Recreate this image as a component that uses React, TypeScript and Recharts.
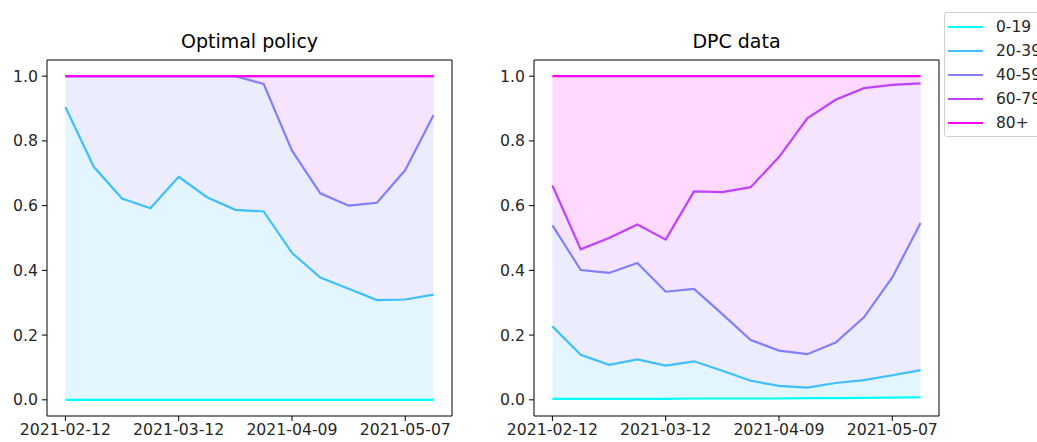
import {
    ComposedChart, Area, Line, XAxis, YAxis, ReferenceArea,
} from 'recharts';

const DATES = [
    '2021-02-12', '2021-02-19', '2021-02-26', '2021-03-05', '2021-03-12', '2021-03-19', '2021-03-26',
    '2021-04-02', '2021-04-09', '2021-04-16', '2021-04-23', '2021-04-30', '2021-05-07', '2021-05-14',
];
const TICK_IDX = [0, 4, 8, 12];
const Y_TICKS = [0, 0.2, 0.4, 0.6, 0.8, 1.0];

const GROUPS = ['0-19', '20-39', '40-59', '60-79', '80+'];
const COLORS = ['#00ffff', '#40bfff', '#8080ff', '#bf40ff', '#ff00ff'];

// cumulative shares, optimal policy
const opt0 = [0, 0, 0, 0, 0, 0, 0, 0, 0, 0, 0, 0, 0, 0];
const opt1 = [0.905, 0.72, 0.622, 0.592, 0.689, 0.626, 0.587, 0.582, 0.454, 0.378, 0.343, 0.308, 0.31, 0.325];
const opt2 = [1, 1, 1, 1, 1, 1, 1, 0.976, 0.77, 0.638, 0.6, 0.609, 0.71, 0.88];
const opt3 = [1, 1, 1, 1, 1, 1, 1, 1, 1, 1, 1, 1, 1, 1];
const opt4 = [1, 1, 1, 1, 1, 1, 1, 1, 1, 1, 1, 1, 1, 1];

// cumulative shares, DPC data
const dpc0 = [0.003, 0.003, 0.003, 0.003, 0.003, 0.004, 0.004, 0.004, 0.004, 0.005, 0.005, 0.006, 0.007, 0.008];
const dpc1 = [0.227, 0.139, 0.108, 0.125, 0.106, 0.119, 0.09, 0.059, 0.043, 0.038, 0.052, 0.061, 0.076, 0.092];
const dpc2 = [0.539, 0.401, 0.392, 0.423, 0.334, 0.343, 0.265, 0.185, 0.152, 0.141, 0.177, 0.255, 0.378, 0.546];
const dpc3 = [0.662, 0.465, 0.5, 0.542, 0.495, 0.644, 0.642, 0.657, 0.75, 0.87, 0.927, 0.963, 0.973, 0.978];
const dpc4 = [1, 1, 1, 1, 1, 1, 1, 1, 1, 1, 1, 1, 1, 1];

const FONT = '"DejaVu Sans", sans-serif';
const TXT = '#262626';

const build = (series: number[][]) =>
    DATES.map((d, i) => {
        const row: any = { i, date: d };
        series.forEach((s, k) => { row['s' + k] = s[i]; });
        return row;
    });

const Panel = ({ title, series, left }: { title: string; series: number[][]; left: number }) => {
    const data = build(series);
    return (
        <div style={{ position: 'absolute', left, top: 0, width: 470, height: 442 }}>
            <div style={{
                position: 'absolute', left: 47, width: 405, top: 30, textAlign: 'center',
                fontFamily: FONT, fontSize: 19, color: '#000',
            }}>{title}</div>
            <ComposedChart width={470} height={442} data={data}
                margin={{ top: 60, right: 18, bottom: 0, left: 10 }}>
                <XAxis dataKey="i" type="number" domain={[-0.65, 13.65]} ticks={TICK_IDX}
                    tickFormatter={(v: number) => DATES[v]} height={26} axisLine={false}
                    tickSize={5} tickLine={{ stroke: '#000' }} interval={0}
                    tick={{ fontFamily: FONT, fontSize: 15.7, fill: TXT, dy: 1 }} />
                <YAxis type="number" domain={[-0.05, 1.05]} ticks={Y_TICKS} width={37}
                    tickFormatter={(v: number) => v.toFixed(1)} axisLine={false}
                    tickSize={5} tickLine={{ stroke: '#000' }} interval={0}
                    tick={{ fontFamily: FONT, fontSize: 15.7, fill: TXT, dx: -2 }} />
                {[1, 2, 3, 4].map(k => (
                    <Area key={'a' + k} type="linear" isAnimationActive={false}
                        dataKey={(r: any) => [r['s' + (k - 1)], r['s' + k]]}
                        stroke="none" fill={COLORS[k]} fillOpacity={0.15} />
                ))}
                {GROUPS.map((g, k) => (
                    <Line key={g} type="linear" dataKey={'s' + k} name={g} isAnimationActive={false}
                        stroke={COLORS[k]} strokeWidth={2.2} dot={false} />
                ))}
                <ReferenceArea x1={-0.65} x2={13.65} y1={-0.05} y2={1.05}
                    fill="none" stroke="#000" strokeWidth={1} ifOverflow="visible" />
            </ComposedChart>
        </div>
    );
};

const Legend = () => (
    <div style={{
        position: 'absolute', left: 944, top: 12, width: 110, height: 125,
        border: '1px solid #d0d0d0', borderRadius: 3, background: '#fff', boxSizing: 'border-box',
    }}>
        {GROUPS.map((g, k) => (
            <div key={g} style={{ position: 'absolute', left: 3, top: 2 + k * 24, height: 24, display: 'flex', alignItems: 'center' }}>
                <div style={{ width: 35, height: 2.4, background: COLORS[k] }} />
                <span style={{ marginLeft: 13, fontFamily: FONT, fontSize: 15.5, color: TXT }}>{g}</span>
            </div>
        ))}
    </div>
);

export default function App() {
    return (
        <div style={{ position: 'absolute', left: 0, top: 0, width: 1037, height: 442, overflow: 'hidden', background: '#fff' }}>
            <Panel title="Optimal policy" left={0}
                series={[opt0, opt1, opt2, opt3, opt4]} />
            <Panel title="DPC data" left={487}
                series={[dpc0, dpc1, dpc2, dpc3, dpc4]} />
            <Legend />
        </div>
    );
}
